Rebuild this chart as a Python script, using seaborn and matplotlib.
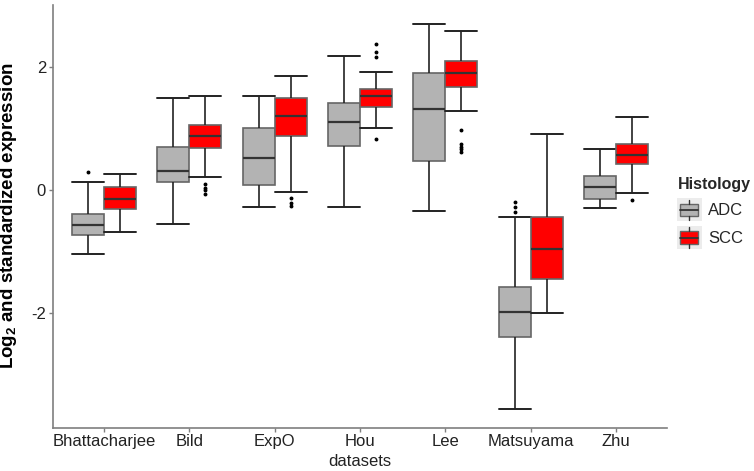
import numpy as np
import pandas as pd
import matplotlib
matplotlib.use("Agg")
import matplotlib.pyplot as plt
import matplotlib.patches as mpatches
from matplotlib.lines import Line2D
from matplotlib.legend_handler import HandlerBase
import seaborn as sns

# ---- data (five-number summaries + outliers) ----
datasets = ["Bhattacharjee", "Bild", "ExpO", "Hou", "Lee", "Matsuyama", "Zhu"]
groups = ["ADC", "SCC"]

adc_lo = [-1.05, -0.56, -0.28, -0.28, -0.34, -3.57, -0.29]
adc_q1 = [-0.74, 0.12, 0.08, 0.71, 0.47, -2.39, -0.15]
adc_med = [-0.57, 0.30, 0.52, 1.11, 1.31, -1.99, 0.05]
adc_q3 = [-0.39, 0.70, 1.00, 1.42, 1.90, -1.59, 0.23]
adc_hi = [0.12, 1.49, 1.53, 2.18, 2.70, -0.44, 0.66]
adc_out = [[0.29], [], [], [], [], [-0.20, -0.28, -0.36], []]

scc_lo = [-0.69, 0.21, -0.04, 1.01, 1.29, -2.00, -0.05]
scc_q1 = [-0.31, 0.68, 0.87, 1.35, 1.67, -1.45, 0.42]
scc_med = [-0.15, 0.87, 1.20, 1.52, 1.90, -0.97, 0.57]
scc_q3 = [0.04, 1.06, 1.49, 1.64, 2.09, -0.45, 0.74]
scc_hi = [0.26, 1.52, 1.85, 1.92, 2.59, 0.91, 1.19]
scc_out = [[], [0.09, 0.03, -0.01, -0.07], [-0.14, -0.22, -0.27],
           [2.38, 2.24, 2.17, 0.83], [0.97, 0.74, 0.70, 0.66, 0.61], [], [-0.16]]

y_ticks = [-2, 0, 2]
y_ticklabels = ["-2", "0", "2"]

palette = {"ADC": "#b3b3b3", "SCC": "#ff0000"}

# ---- build samples reproducing each summary ----
rows = []
summ = {
    "ADC": (adc_lo, adc_q1, adc_med, adc_q3, adc_hi, adc_out),
    "SCC": (scc_lo, scc_q1, scc_med, scc_q3, scc_hi, scc_out),
}
K = 20
for g in groups:
    lo, q1, md, q3, hi, out = summ[g]
    for i, d in enumerate(datasets):
        vals = [lo[i]] + [q1[i]] * K + [md[i]] * K + [q3[i]] * K + [hi[i]] + list(out[i])
        for v in vals:
            rows.append((d, g, v))
df = pd.DataFrame(rows, columns=["dataset", "Histology", "value"])

# ---- plotting ----
sns.set_style("white")
plt.rcParams["font.family"] = ["Liberation Sans", "DejaVu Sans"]
plt.rcParams["mathtext.default"] = "regular"
plt.rcParams["axes.unicode_minus"] = False

W, H = 754, 471
fig = plt.figure(figsize=(W / 100, H / 100), dpi=100)
ax = fig.add_axes([53 / W, (H - 428) / H, (667 - 53) / W, (428 - 5) / H])

line_c = "#333333"
sns.boxplot(
    data=df, x="dataset", y="value", hue="Histology",
    order=datasets, hue_order=groups, palette=palette,
    width=0.75, gap=0, saturation=1, linecolor=line_c, linewidth=1.2,
    fliersize=1.8, legend=False, ax=ax,
    flierprops=dict(marker="o", markerfacecolor="black", markeredgecolor="black"),
    boxprops=dict(edgecolor="#666666"),
    whiskerprops=dict(color="#222222"),
    capprops=dict(color="#222222", linewidth=1.4),
    medianprops=dict(color="#333333", linewidth=1.6),
)

# caps as wide as the box (ggplot errorbar style)
half = 0.75 / 2 / 2
for ln in ax.lines:
    xd = np.asarray(ln.get_xdata(), dtype=float)
    yd = np.asarray(ln.get_ydata(), dtype=float)
    if len(xd) == 2 and np.isclose(yd[0], yd[1]):
        w = abs(xd[1] - xd[0])
        if 0 < w < 2 * half - 1e-6:
            c = (xd[0] + xd[1]) / 2
            ln.set_xdata([c - half, c + half])

ax.set_xlim(-0.6, 6.6)
ax.set_ylim(-3.88, 3.01)
ax.set_yticks(y_ticks)
ax.set_yticklabels(y_ticklabels)
ax.set_xlabel("")
ax.set_ylabel("")
for s in ["top", "right"]:
    ax.spines[s].set_visible(False)
for s in ["left", "bottom"]:
    ax.spines[s].set_color("#7f7f7f")
    ax.spines[s].set_linewidth(1.2)
ax.tick_params(axis="both", which="both", length=3, width=1, color="#7f7f7f",
               labelsize=12, labelcolor="#222222", pad=2)
ax.tick_params(axis="x", pad=1.5)
ax.tick_params(left=True, bottom=True)

fig.text(9 / W, 1 - 216 / H, "Log$_2$ and standardized expression", rotation=90,
         ha="center", va="center", fontsize=13.5, fontweight="bold", color="black")
fig.text(360 / W, 1 - 462 / H, "datasets", ha="center", va="center",
         fontsize=12, color="#222222")


class BoxKeyHandler(HandlerBase):
    def create_artists(self, legend, orig_handle, xdescent, ydescent, width, height, fontsize, trans):
        x0, y0 = -xdescent, -ydescent
        arts = []
        bg = mpatches.Rectangle((x0 - 1, y0 - 1), width + 2, height + 2,
                                facecolor="#ececec", edgecolor="none", transform=trans)
        arts.append(bg)
        box = mpatches.Rectangle((x0 + 1.5, y0 + 0.2 * height), width - 3, 0.6 * height,
                                 facecolor=orig_handle.get_facecolor(), edgecolor="#666666",
                                 linewidth=1, transform=trans)
        arts.append(box)
        cx = x0 + width / 2
        arts.append(Line2D([cx, cx], [y0, y0 + 0.2 * height], color="#333333", lw=1, transform=trans))
        arts.append(Line2D([cx, cx], [y0 + 0.8 * height, y0 + height], color="#333333", lw=1, transform=trans))
        arts.append(Line2D([x0 + 1.5, x0 + width - 1.5], [y0 + 0.5 * height] * 2,
                           color="#333333", lw=1.3, transform=trans))
        return arts


handles = [mpatches.Patch(facecolor=palette[g], label=g) for g in groups]
leg = fig.legend(handles=handles, labels=groups, loc="upper left",
                 bbox_to_anchor=(678 / W, 1 - 177 / H), bbox_transform=fig.transFigure,
                 frameon=False, title="Histology", fontsize=12,
                 title_fontproperties={"weight": "bold", "size": 11.5},
                 handlelength=1.35, handleheight=1.5, handletextpad=0.45,
                 labelspacing=0.45, borderpad=0, borderaxespad=0, alignment="left",
                 handler_map={mpatches.Patch: BoxKeyHandler()})

fig.savefig("out.png", dpi=100)
